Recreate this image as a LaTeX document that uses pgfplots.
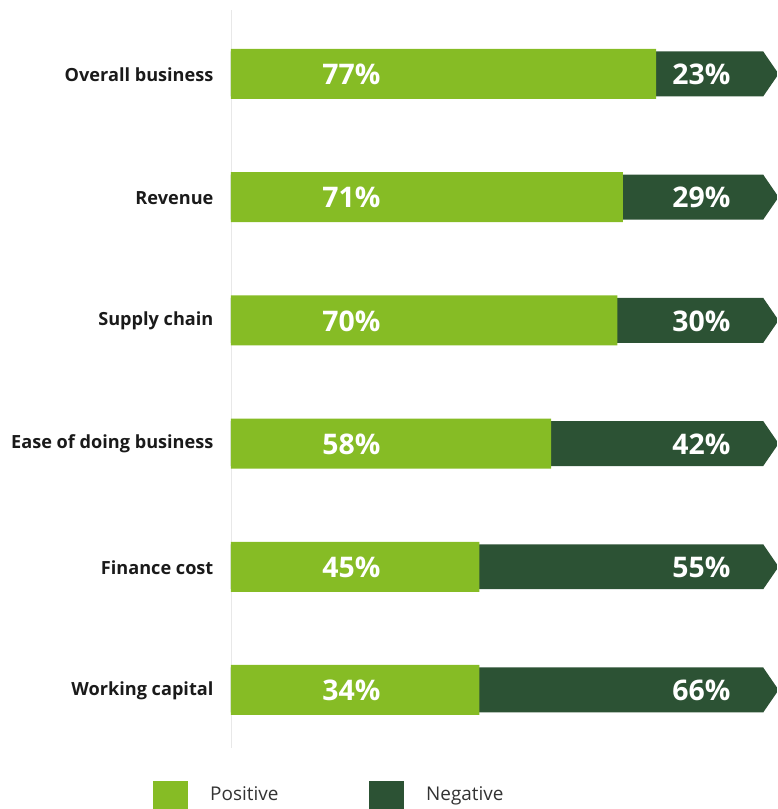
\documentclass[border=0pt]{standalone}
\usepackage{pgfplots}
\pgfplotsset{compat=1.18}
\usepackage{fontspec}
\setmainfont{Open Sans}
\definecolor{posgreen}{RGB}{134,188,37}
\definecolor{neggreen}{RGB}{44,82,52}
\definecolor{labelgray}{RGB}{26,26,26}
\definecolor{legendgray}{RGB}{51,51,51}
\begin{document}
\begin{tikzpicture}
\begin{axis}[
  scale only axis,
  width=409.5pt, height=553.5pt,
  xmin=0, xmax=98.9,
  ymin=-0.471, ymax=5.519,
  axis line style={draw=none},
  xtick=\empty,
  extra x ticks={0}, extra x tick labels={},
  extra x tick style={grid=major, major grid style={draw=gray!18, line width=0.6pt}},
  ytick={0,...,5},
  yticklabels={Working capital,Finance cost,Ease of doing business,Supply chain,Revenue,Overall business},
  major tick length=0pt,
  yticklabel style={font=\bfseries\fontsize{13.6}{16}\selectfont, text=labelgray, anchor=east, inner sep=0pt, xshift=-13pt, yshift=-0.5pt},
  legend columns=2,
  legend image code/.code={\fill[#1] (0pt,-10.5pt) rectangle (26.25pt,10.5pt);},
  legend cell align=left,
  legend style={at={(axis description cs:-0.1429,-0.0637)}, anchor=west,
    draw=none, fill=none, inner sep=0pt,
    nodes={inner sep=0pt, font=\fontsize{14.2}{17}\selectfont, text=legendgray},
    /tikz/every odd column/.append style={column sep=16.5pt},
    /tikz/every even column/.append style={column sep=68pt}},
]
% dark bars behind, green bars on top
\addplot[xbar, bar shift=0pt, bar width=0.365, fill=neggreen, draw=none, forget plot]
  coordinates {(96.4,0) (96.4,1) (96.4,2) (96.4,3) (96.4,4) (96.4,5)};
\addplot[xbar, bar shift=0pt, bar width=0.406, fill=posgreen, draw=none, forget plot]
  coordinates {(77,5) (71,4) (70,3) (58,2) (45,1) (45,0)};
% arrow tips
\addplot[fill=neggreen, draw=none, forget plot] coordinates {(96.4,4.8175) (99.2,5) (96.4,5.1825)};
\addplot[fill=neggreen, draw=none, forget plot] coordinates {(96.4,3.8175) (99.2,4) (96.4,4.1825)};
\addplot[fill=neggreen, draw=none, forget plot] coordinates {(96.4,2.8175) (99.2,3) (96.4,3.1825)};
\addplot[fill=neggreen, draw=none, forget plot] coordinates {(96.4,1.8175) (99.2,2) (96.4,2.1825)};
\addplot[fill=neggreen, draw=none, forget plot] coordinates {(96.4,0.8175) (99.2,1) (96.4,1.1825)};
\addplot[fill=neggreen, draw=none, forget plot] coordinates {(96.4,-0.1825) (99.2,0) (96.4,0.1825)};
% value labels
\addplot[draw=none, forget plot, nodes near coords, point meta=explicit symbolic,
  every node near coord/.append style={anchor=center, text=white, yshift=-0.5pt, font=\bfseries\fontsize{21.3}{24}\selectfont}]
  coordinates {(21.8,5) [77\%] (21.8,4) [71\%] (21.8,3) [70\%] (21.8,2) [58\%] (21.8,1) [45\%] (21.8,0) [34\%]};
\addplot[draw=none, forget plot, nodes near coords, point meta=explicit symbolic,
  every node near coord/.append style={anchor=center, text=white, yshift=-0.5pt, font=\bfseries\fontsize{21.3}{24}\selectfont}]
  coordinates {(85.2,5) [23\%] (85.2,4) [29\%] (85.2,3) [30\%] (85.2,2) [42\%] (85.2,1) [55\%] (85.2,0) [66\%]};
\addlegendimage{fill=posgreen, draw=none}
\addlegendentry{Positive}
\addlegendimage{fill=neggreen, draw=none}
\addlegendentry{Negative}
\coordinate (sw) at (rel axis cs:0,0);
\coordinate (ne) at (rel axis cs:1,1);
\end{axis}
\pgfresetboundingbox
\path ([xshift=-173.25pt,yshift=-45.75pt]sw) rectangle ([yshift=7.5pt]ne);
\end{tikzpicture}
\end{document}
